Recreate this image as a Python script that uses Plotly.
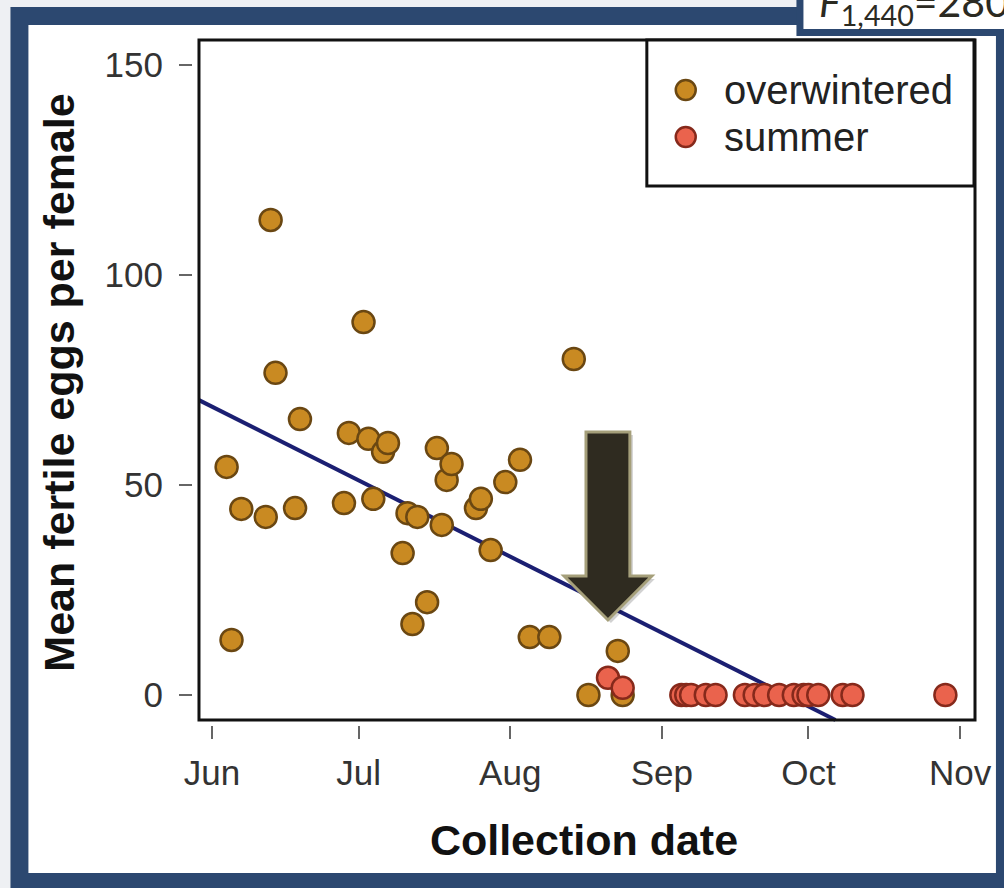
import plotly.graph_objects as go
import pandas as pd

# ---------------- data ----------------
ow_dates = ["2014-06-04", "2014-06-05", "2014-06-07", "2014-06-12", "2014-06-13", "2014-06-14",
            "2014-06-18", "2014-06-19", "2014-06-28", "2014-06-29", "2014-07-02", "2014-07-03",
            "2014-07-04", "2014-07-06", "2014-07-07", "2014-07-10", "2014-07-11", "2014-07-12",
            "2014-07-13", "2014-07-15", "2014-07-17", "2014-07-18", "2014-07-19", "2014-07-20",
            "2014-07-25", "2014-07-26", "2014-07-28", "2014-07-31", "2014-08-03", "2014-08-05",
            "2014-08-09", "2014-08-14", "2014-08-17", "2014-08-23", "2014-08-24"]
ow_eggs = [54.3, 13.1, 44.3, 42.4, 113.1, 76.7,
           44.5, 65.7, 45.7, 62.4, 88.8, 61.0,
           46.7, 57.9, 60.0, 33.8, 43.3, 16.9,
           42.4, 22.1, 58.8, 40.5, 51.2, 55.0,
           44.5, 46.7, 34.5, 50.7, 56.0, 13.8,
           13.8, 80.0, 0.0, 10.5, 0.0]

su_dates = ["2014-08-21", "2014-08-24", "2014-09-05", "2014-09-06", "2014-09-07", "2014-09-10",
            "2014-09-12", "2014-09-18", "2014-09-20", "2014-09-22", "2014-09-25", "2014-09-28",
            "2014-09-30", "2014-10-01", "2014-10-03", "2014-10-08", "2014-10-10", "2014-10-29"]
su_eggs = [4.1, 1.7, 0, 0, 0, 0,
           0, 0, 0, 0, 0, 0,
           0, 0, 0, 0, 0, 0]

fit_origin = "2014-06-01"
fit_intercept = 68.65     # fitted eggs at fit_origin
fit_slope = -0.585        # eggs per day

month_ticks = ["2014-06-01", "2014-07-01", "2014-08-01", "2014-09-01", "2014-10-01", "2014-11-01"]
month_labels = ["Jun", "Jul", "Aug", "Sep", "Oct", "Nov"]
y_ticks = [0, 50, 100, 150]
y_labels = ["0", "50", "100", "150"]

# ---------------- layout geometry (pixels) ----------------
W, H = 1004, 888
L, R, T, B = 193, 977, 40, 725          # plot area (tick area)
BOX_L, BOX_B = 199, 720                  # framed box (left / bottom)
origin = pd.Timestamp(fit_origin)
PX_PER_DAY = 4.902
JUN1_PX = 212
Y0_PX, PX_PER_UNIT = 695, 4.2


def px_to_day(x):
    return (x - JUN1_PX) / PX_PER_DAY


def py_to_val(y):
    return (Y0_PX - y) / PX_PER_UNIT


def ts(day):
    return (origin + pd.Timedelta(days=day)).strftime("%Y-%m-%d %H:%M:%S")


def fx(x):
    return (x - L) / (R - L)


def fy(y):
    return (B - y) / (B - T)


x_range = [ts(px_to_day(L)), ts(px_to_day(R))]
y_range = [py_to_val(B), py_to_val(T)]

# fitted line, clipped to the framed box
d_start = px_to_day(BOX_L)
d_end = (py_to_val(BOX_B) - fit_intercept) / fit_slope
fit_x = [ts(d_start), ts(d_end)]
fit_y = [fit_intercept + fit_slope * d_start, fit_intercept + fit_slope * d_end]

GOLD, GOLD_EDGE = "#c98a22", "#6a4712"
RED, RED_EDGE = "#ea634d", "#86291b"
NAVY = "#1b1f72"
FRAME = "#2c4870"
FONT = "Liberation Sans"

fig = go.Figure()
fig.add_trace(go.Scatter(x=fit_x, y=fit_y, mode="lines",
                         line=dict(color=NAVY, width=4), hoverinfo="skip"))
fig.add_trace(go.Scatter(x=ow_dates, y=ow_eggs, mode="markers", name="overwintered",
                         marker=dict(size=22, color=GOLD, line=dict(color=GOLD_EDGE, width=2.5)),
                         cliponaxis=False))
fig.add_trace(go.Scatter(x=su_dates, y=su_eggs, mode="markers", name="summer",
                         marker=dict(size=22, color=RED, line=dict(color=RED_EDGE, width=2.5)),
                         cliponaxis=False))

shapes = [
    # slide frame
    dict(type="rect", xref="paper", yref="paper", x0=fx(28), x1=fx(998), y0=fy(873), y1=fy(25),
         fillcolor="white", line=dict(width=0), layer="below"),
    dict(type="rect", xref="paper", yref="paper", x0=fx(-5), x1=fx(10), y0=fy(893), y1=fy(-5),
         fillcolor="#eef0f3", line=dict(width=0), layer="below"),
    dict(type="rect", xref="paper", yref="paper", x0=fx(-5), x1=fx(1010), y0=fy(7), y1=fy(-5),
         fillcolor="#eef0f3", line=dict(width=0), layer="below"),
    # box around the plot
    dict(type="rect", xref="paper", yref="paper", x0=fx(BOX_L), x1=fx(R), y0=fy(BOX_B), y1=fy(T),
         line=dict(color="#111111", width=3), fillcolor="rgba(0,0,0,0)", layer="above"),
    # legend box
    dict(type="rect", xref="paper", yref="paper", x0=fx(648), x1=fx(976), y0=fy(186), y1=fy(T),
         line=dict(color="#111111", width=3), fillcolor="white", layer="above"),
    dict(type="circle", xref="paper", yref="paper", x0=fx(677), x1=fx(697), y0=fy(100), y1=fy(80),
         line=dict(color=GOLD_EDGE, width=2.5), fillcolor=GOLD, layer="above"),
    dict(type="circle", xref="paper", yref="paper", x0=fx(677), x1=fx(697), y0=fy(147), y1=fy(127),
         line=dict(color=RED_EDGE, width=2.5), fillcolor=RED, layer="above"),
    # text box at top right
    dict(type="rect", xref="paper", yref="paper", x0=fx(801.5), x1=fx(1015), y0=fy(32.5), y1=fy(-20),
         line=dict(color=FRAME, width=7), fillcolor="white", layer="above"),
]

# arrow
arrow_pts = [(587, 432), (631, 432), (631, 576), (653, 576), (609, 620), (565, 576), (587, 576)]
shadow = "M " + " L ".join(f"{fx(x + 3)},{fy(y + 3)}" for x, y in arrow_pts) + " Z"
path = "M " + " L ".join(f"{fx(x)},{fy(y)}" for x, y in arrow_pts) + " Z"
shapes.append(dict(type="path", xref="paper", yref="paper", path=shadow,
                   fillcolor="rgba(0,0,0,0.18)", line=dict(width=0), layer="above"))
shapes.append(dict(type="path", xref="paper", yref="paper", path=path,
                   fillcolor="#2f2b20", line=dict(color="#a59f7a", width=3), layer="above"))

annotations = [
    dict(text="overwintered", x=fx(723), y=fy(90), xref="paper", yref="paper",
         xanchor="left", yanchor="middle", showarrow=False,
         font=dict(family=FONT, size=40, color="#222222")),
    dict(text="summer", x=fx(723), y=fy(137), xref="paper", yref="paper",
         xanchor="left", yanchor="middle", showarrow=False,
         font=dict(family=FONT, size=40, color="#222222")),
    dict(text="<i>F</i><sub>1,440</sub>=280", x=fx(819), y=fy(4), xref="paper", yref="paper",
         xanchor="left", yanchor="middle", showarrow=False,
         font=dict(family="Lato", size=41, color="#2b2a22")),
]

fig.update_layout(
    width=W, height=H,
    margin=dict(l=L, r=W - R, t=T, b=H - B, pad=0),
    paper_bgcolor=FRAME, plot_bgcolor="rgba(0,0,0,0)",
    showlegend=False,
    shapes=shapes, annotations=annotations,
    xaxis=dict(range=x_range, tickvals=month_ticks, ticktext=month_labels,
               showgrid=False, zeroline=False, showline=False,
               ticks="outside", ticklen=13, tickwidth=2, tickcolor="#666666",
               ticklabelstandoff=4,
               tickfont=dict(family=FONT, size=35, color="#333333"),
               title=dict(text="<b>Collection date</b>", standoff=33,
                          font=dict(family=FONT, size=43, color="#111111"))),
    yaxis=dict(range=y_range, tickvals=y_ticks, ticktext=y_labels,
               showgrid=False, zeroline=False, showline=False,
               ticks="outside", ticklen=13, tickwidth=2, tickcolor="#666666",
               ticklabelstandoff=9,
               tickfont=dict(family=FONT, size=35, color="#333333"),
               title=dict(text="<b>Mean fertile eggs per female</b>", standoff=16,
                          font=dict(family=FONT, size=43, color="#111111"))),
)

fig.write_html("out.html")
